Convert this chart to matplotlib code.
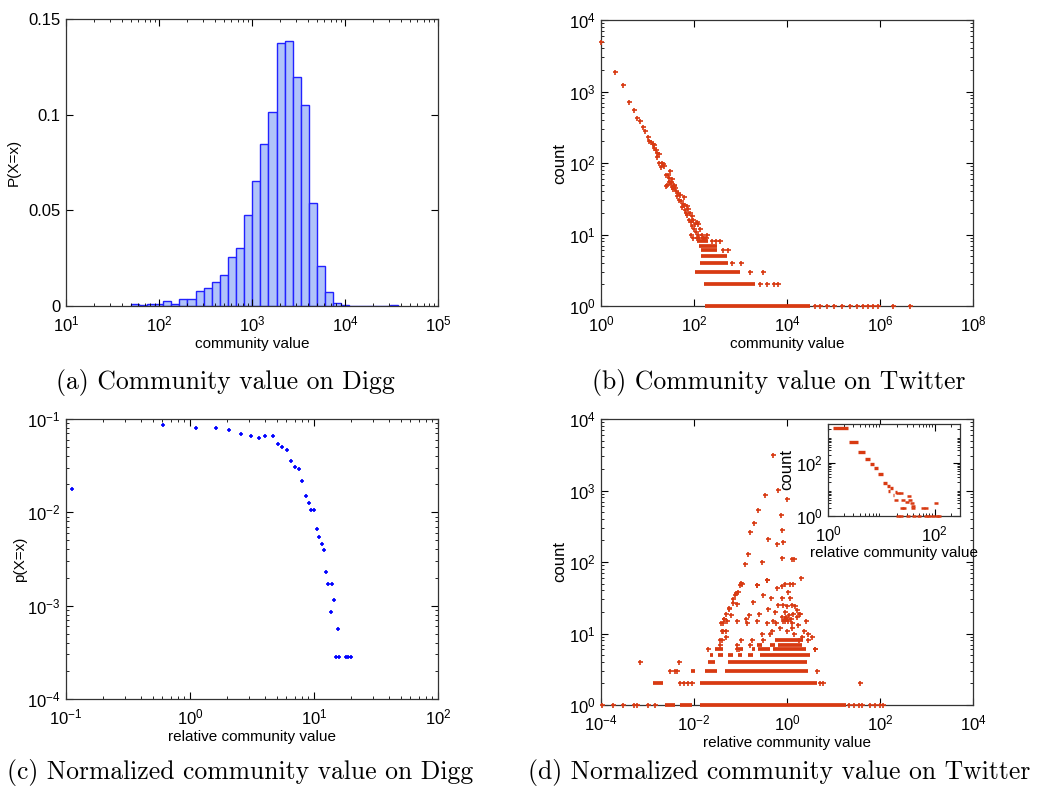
import matplotlib.pyplot as plt
import numpy as np
from matplotlib.ticker import FixedLocator, LogLocator, NullFormatter

plt.rcParams['font.family'] = ['Liberation Sans', 'DejaVu Sans']
plt.rcParams['mathtext.fontset'] = 'custom'
plt.rcParams['mathtext.rm'] = 'Liberation Sans'
plt.rcParams['mathtext.it'] = 'Liberation Sans:italic'

RED = '#d83a12'
BLUE = '#0000ff'

# ---------- (a) Digg histogram ----------
a_first_edge = 49.7          # left edge of first bar
a_log_step = 0.0871          # bin width in decades
a_heights = [0.0009, 0.0005, 0.0009, 0.0010, 0.0024, 0.0009, 0.0038, 0.0035,
             0.0077, 0.0096, 0.0124, 0.0160, 0.0258, 0.0301, 0.0477, 0.0652,
             0.0849, 0.1012, 0.1377, 0.1384, 0.1195, 0.1049, 0.0538, 0.0211,
             0.0075, 0.0017, 0.0005, 0, 0, 0, 0, 0, 0.0004]

# ---------- (b) Twitter community value ----------
b_head_x = [1, 2, 3, 4, 5, 6, 7, 8, 9, 10, 11, 12, 13, 13.5, 14, 15, 16, 18,
            16, 18, 21, 22, 23, 20, 31, 25, 27, 28.6, 33.6, 31.6, 26, 38]
b_head_y = [5000, 1860, 1220, 720, 560, 425, 387, 318, 283, 233, 203, 195, 186,
            178, 160, 154, 139, 134, 121, 100, 100, 97, 92, 88, 77, 69, 68, 61,
            59, 55, 50, 50]
b_cloud_x = [24.6, 28.5, 31.5, 33, 36, 38, 42, 46, 50, 48, 53, 57, 61, 56, 64,
             70, 75, 67, 72, 82, 89, 79, 86, 97, 105, 114, 124, 89, 100, 110,
             124, 135, 146, 164, 194, 85, 94, 114, 130, 154, 181, 60, 44, 40]
b_cloud_y = [48, 55, 52, 46, 43, 47, 40, 38, 36, 30, 29, 27, 26, 24, 22, 25, 23,
             20, 19, 20, 18, 16, 15, 16, 14, 15, 14, 13, 12, 11, 10, 12, 10, 9,
             10, 10, 9, 9, 9, 9, 9, 33, 35, 45]
# dense runs of points on integer counts: (count, first x, last x)
b_rows = [(8, 114, 203), (7, 130, 318), (6, 139, 318), (5, 139, 521),
          (4, 135, 547), (3, 105, 977), (2, 164, 2050), (1, 172, 31300)]
b_sparse_x = [240, 297, 362, 428, 547, 645, 1024, 1600, 3090, 2630, 3660, 5250,
              6300, 4e4, 5.1e4, 7.1e4, 1e5, 1.5e5, 2.26e5, 3.2e5, 4.4e5,
              5.4e5, 7.2e5, 9.1e5, 1.95e6, 4.5e6]
b_sparse_y = [8, 8, 8, 6, 6, 4, 4, 3, 3, 2, 2, 2, 2, 1, 1, 1, 1, 1, 1, 1, 1, 1,
              1, 1, 1, 1]

# ---------- (c) normalized Digg ----------
c_x = [0.111, 0.608, 1.116, 1.607, 2.08, 2.60, 3.11, 3.61, 4.06, 4.63, 5.08,
       5.57, 6.07, 6.58, 7.04, 7.54, 8.07, 8.54, 9.03, 9.54, 10.09, 10.6, 11.07,
       11.56, 12.0, 12.53, 13.08, 13.9, 13.66, 14.52, 15.65, 14.99, 16.03,
       18.03, 18.96, 19.9]
c_y = [0.0178, 0.0855, 0.0808, 0.0794, 0.0769, 0.069, 0.0652, 0.0625, 0.0652,
       0.0663, 0.0535, 0.0501, 0.0469, 0.0355, 0.0308, 0.0291, 0.0218, 0.0148,
       0.0126, 0.0105, 0.0105, 0.00658, 0.0054, 0.00458, 0.00398, 0.00228,
       0.00169, 0.00169, 0.00085, 0.00114, 0.000568, 0.000279, 0.000279,
       0.000279, 0.000279, 0.000279]

# ---------- (d) normalized Twitter ----------
d_top_x = [0.505, 0.647, 0.334, 0.977, 0.24, 0.738, 0.197, 0.789, 0.159, 0.394,
           0.596, 0.828, 0.142, 0.764, 1.25, 1.43, 0.124, 0.284, 0.363, 1.99,
           0.105, 0.221, 0.0796, 0.0698, 0.0573, 0.0486, 0.044, 0.0412, 0.0392,
           0.0478, 0.036, 2.54, 3.37, 3.97]
d_top_y = [3140, 1016, 865, 760, 534, 454, 348, 281, 266, 207, 179, 188, 129,
           112, 110, 110, 93, 99, 56, 59, 51, 47, 37, 30, 22.5, 19, 16, 14, 11,
           11, 8, 15, 9, 6]
d_cloud_x = [0.106, 0.0975, 0.223, 0.0762, 0.0898, 0.0679, 0.0828, 0.0576,
             0.0625, 0.0374, 0.0441, 0.0504, 0.0414, 0.0488, 0.0855, 0.129,
             0.136, 0.155, 0.183, 0.223, 0.254, 0.3, 0.285, 0.366, 0.446,
             0.397, 0.366, 0.508, 0.6, 0.767, 0.905, 1.16, 1.37, 1.07, 1.16,
             0.794, 0.834, 0.984, 0.652, 0.552, 1.26, 1.49, 1.61, 1.84, 0.905,
             0.767, 0.905, 1.07, 0.807, 0.58, 0.468, 0.43, 0.706, 0.984, 1.26,
             1.75, 2.32, 2.07, 1.84, 1.26, 1.44, 2.88, 1.61, 1.37, 1.9, 1.0,
             0.95, 1.1, 1.2, 0.9]
d_cloud_y = [50, 48, 47, 34, 38, 27, 26, 22, 18, 14, 16, 15, 11, 9, 15, 16, 14,
             18, 28, 15, 19, 34, 10, 56, 31, 22, 14, 15, 43, 46, 49, 50, 50, 38,
             31, 31, 25, 24, 25, 20, 25, 24, 21, 19, 20, 17, 16, 15, 15, 14, 11,
             10, 12, 11, 14, 13, 11, 9, 8, 12, 10, 10, 17, 19, 19, 16, 17, 18,
             16, 15]
d_rows = [(1, 0.00238, 0.0039), (1, 0.005, 0.0089), (1, 0.0135, 19),
          (2, 0.00133, 0.00219), (2, 0.0135, 4.35),
          (3, 0.0085, 0.0105), (3, 0.0173, 0.0307), (3, 0.0465, 2.88),
          (4, 0.0203, 0.0283), (4, 0.0547, 2.63),
          (5, 0.0221, 0.026), (5, 0.0333, 0.0428), (5, 0.054, 0.069),
          (5, 0.0897, 0.106), (5, 0.147, 0.189), (5, 0.262, 3.13),
          (6, 0.0283, 0.0428), (6, 0.0975, 0.115), (6, 0.174, 0.205),
          (6, 0.242, 0.43), (6, 0.508, 2.5),
          (7, 0.223, 0.285), (7, 0.43, 0.552), (7, 0.652, 2.1),
          (8, 0.55, 2.2)]
d_sparse_x = [1.05e-4, 1.8e-4, 2.95e-4, 5e-4, 5.9e-4, 1.05e-3, 1.45e-3, 22, 28,
              35, 41, 61, 78, 100, 117, 0.005, 0.0062, 0.0075, 0.0089, 5.1, 6.0,
              37, 0.003, 0.0039, 0.0043, 4.4, 6.9e-4, 4.7e-3, 0.0203, 0.0845,
              0.092, 4.0, 0.0363, 0.083, 0.16, 0.0393, 0.1, 0.18, 0.3, 2.8]
d_sparse_y = [1, 1, 1, 1, 1, 1, 1, 1, 1, 1, 1, 1, 1, 1, 1, 2, 2, 2, 2, 2, 2, 2,
              3, 3, 3, 3, 4, 4, 6, 6, 6, 6, 7, 7, 7, 8, 8, 8, 8, 8]

# inset: dashes (count, first x, last x) and single marks
in_rows = [(2040, 1.26, 2.4), (633, 2.47, 3.7), (268, 3.7, 4.95), (141, 4.9, 6.2),
           (89, 6.2, 7.4), (65, 7.4, 8.7), (37.5, 8.8, 10.8), (17, 10.8, 12.7),
           (13.5, 12.6, 14.3), (11, 14.8, 16.5), (9, 13.4, 14.7), (6.2, 16.3, 17.5),
           (7.8, 18.1, 19.7)]
in_x = [21, 23, 19.2, 25.6, 31, 33, 35, 37, 39, 24, 26.7, 39.4, 60, 68, 107,
        21, 23, 32, 42, 51, 70, 78, 95, 110, 120]
in_y = [7.6, 7.6, 4, 4, 3.4, 5.6, 4.2, 3, 2.4, 2.06, 2, 2, 2, 2, 3.2,
        1, 1, 1, 1, 1, 1, 1, 1, 1, 1]

captions = ['(a) Community value on Digg', '(b) Community value on Twitter',
            '(c) Normalized community value on Digg',
            '(d) Normalized community value on Twitter']


def matlab_style(ax, size=12):
    ax.tick_params(which='both', direction='in', top=True, right=True,
                   labelsize=size)
    ax.tick_params(axis='x', pad=6)
    ax.tick_params(axis='y', pad=4)
    ax.tick_params(which='major', length=5, width=0.8)
    ax.tick_params(which='minor', length=2.5, width=0.6)
    for s in ax.spines.values():
        s.set_linewidth(0.9)
        s.set_color('#333333')


def decade_ticks(axis, decades, minor=True):
    axis.set_major_locator(FixedLocator(decades))
    if minor:
        axis.set_minor_locator(LogLocator(base=10, subs=np.arange(2, 10), numticks=30))
    else:
        axis.set_minor_locator(FixedLocator([]))
    axis.set_minor_formatter(NullFormatter())


def scatter(ax, x, y, color, ms=3.6):
    ax.plot(x, y, '+', color=color, ms=ms, mew=1.2, clip_on=False, zorder=3)


def rows(ax, data, color, lw=2.7):
    for c, x0, x1 in data:
        ax.hlines(c, x0, x1, colors=color, lw=lw, clip_on=False, zorder=3)


fig = plt.figure(figsize=(10.41, 7.90), dpi=100)
W, H = 1041, 790


def box(l, t, r, b):
    return [l / W, 1 - b / H, (r - l) / W, (b - t) / H]


# (a)
ax = fig.add_axes(box(66, 19, 438, 306))
edges = a_first_edge * 10 ** (a_log_step * np.arange(len(a_heights) + 1))
ax.bar(edges[:-1], a_heights, width=np.diff(edges), align='edge',
       facecolor='#b0c3f9', edgecolor='#2222ff', linewidth=1.0)
ax.set_xscale('log')
ax.set_xlim(10, 1e5)
ax.set_ylim(0, 0.15)
decade_ticks(ax.xaxis, [1e1, 1e2, 1e3, 1e4, 1e5])
ax.set_yticks([0, 0.05, 0.1, 0.15])
ax.set_yticklabels(['0', '0.05', '0.1', '0.15'])
ax.set_xlabel('community value', fontsize=11, labelpad=2)
ax.set_ylabel('P(X=x)', fontsize=11, labelpad=5)
matlab_style(ax)

# (b)
ax = fig.add_axes(box(601, 20, 973, 306))
ax.set_xscale('log')
ax.set_yscale('log')
ax.set_xlim(1, 1e8)
ax.set_ylim(1, 1e4)
rows(ax, b_rows, RED)
scatter(ax, b_head_x, b_head_y, RED)
scatter(ax, b_cloud_x, b_cloud_y, RED)
scatter(ax, b_sparse_x, b_sparse_y, RED)
decade_ticks(ax.xaxis, [1, 1e2, 1e4, 1e6, 1e8], minor=False)
decade_ticks(ax.yaxis, [1, 1e1, 1e2, 1e3, 1e4])
ax.set_xlabel('community value', fontsize=11, labelpad=2)
ax.set_ylabel('count', fontsize=12, labelpad=1)
matlab_style(ax)

# (c)
ax = fig.add_axes(box(66, 419, 438, 699))
ax.set_xscale('log')
ax.set_yscale('log')
ax.set_xlim(0.1, 100)
ax.set_ylim(1e-4, 1e-1)
scatter(ax, c_x, c_y, BLUE, ms=3.2)
decade_ticks(ax.xaxis, [0.1, 1, 10, 100])
decade_ticks(ax.yaxis, [1e-4, 1e-3, 1e-2, 1e-1])
ax.set_xlabel('relative community value', fontsize=11, labelpad=2)
ax.set_ylabel('p(X=x)', fontsize=11, labelpad=0)
matlab_style(ax)

# (d)
ax = fig.add_axes(box(601, 419, 973, 705))
ax.set_xscale('log')
ax.set_yscale('log')
ax.set_xlim(1e-4, 1e4)
ax.set_ylim(1, 1e4)
rows(ax, d_rows, RED)
scatter(ax, d_top_x, d_top_y, RED)
scatter(ax, d_cloud_x, d_cloud_y, RED)
scatter(ax, d_sparse_x, d_sparse_y, RED)
decade_ticks(ax.xaxis, [1e-4, 1e-2, 1, 1e2, 1e4], minor=False)
decade_ticks(ax.yaxis, [1, 1e1, 1e2, 1e3, 1e4])
ax.set_xlabel('relative community value', fontsize=11, labelpad=2)
ax.set_ylabel('count', fontsize=12, labelpad=1)
matlab_style(ax)

# inset of (d)
ax = fig.add_axes(box(828, 424, 960, 516))
ax.set_xscale('log')
ax.set_yscale('log')
ax.set_xlim(1, 300)
ax.set_ylim(1, 3000)
rows(ax, in_rows, RED, lw=2.4)
ax.plot(in_x, in_y, '_', color=RED, ms=3.5, mew=1.8, clip_on=False, zorder=3)
decade_ticks(ax.xaxis, [1, 100])
decade_ticks(ax.yaxis, [1, 100])
ax.set_xlabel('relative community value', fontsize=11, labelpad=1)
ax.set_ylabel('count', fontsize=12, labelpad=1)
matlab_style(ax)

# captions
cap_pos = [(225, 382), (779, 382), (240, 772), (779, 772)]
for (cx, cy), txt in zip(cap_pos, captions):
    fig.text(cx / W, 1 - cy / H, txt, family='cmr10', fontsize=18.5,
             ha='center', va='center')

fig.savefig('out.png', dpi=100)
